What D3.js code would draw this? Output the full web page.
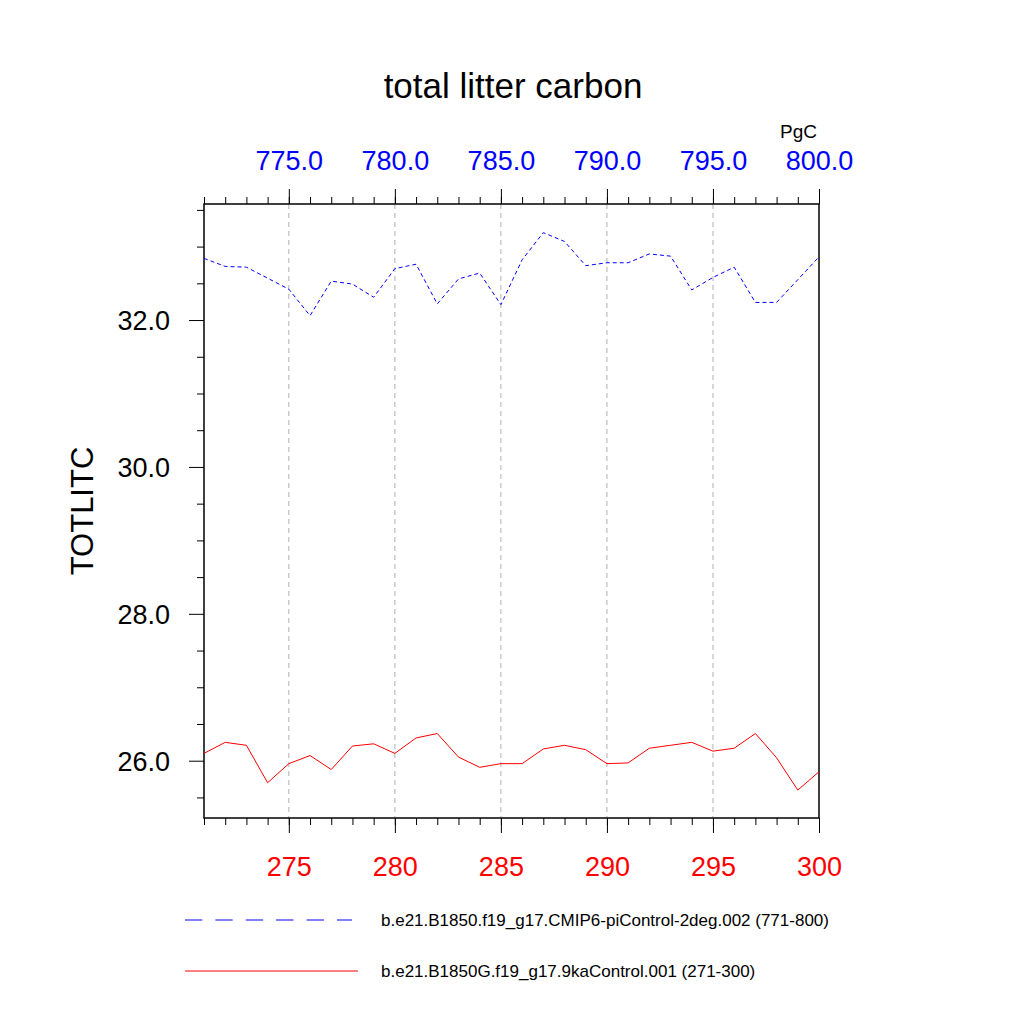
<!DOCTYPE html>
<html>
<head>
<meta charset="utf-8">
<script src="https://cdn.jsdelivr.net/npm/d3@7"></script>
<style>
  body { margin: 0; background: #fff; }
  svg text { font-family: "Liberation Sans", Arial, sans-serif; }
</style>
</head>
<body>
<svg width="1024" height="1024"></svg>
<script>
// years on the two x axes
var yearsCtl = [771, 772, 773, 774, 775, 776, 777, 778, 779, 780, 781, 782, 783, 784, 785,
                786, 787, 788, 789, 790, 791, 792, 793, 794, 795, 796, 797, 798, 799, 800];
var yearsKa  = [271, 272, 273, 274, 275, 276, 277, 278, 279, 280, 281, 282, 283, 284, 285,
                286, 287, 288, 289, 290, 291, 292, 293, 294, 295, 296, 297, 298, 299, 300];

// TOTLITC (PgC)
var ctlVals = [32.84, 32.73, 32.72, 32.57, 32.42, 32.06, 32.53, 32.49, 32.31, 32.70,
               32.76, 32.22, 32.56, 32.64, 32.21, 32.82, 33.19, 33.07, 32.74, 32.78,
               32.78, 32.90, 32.87, 32.41, 32.58, 32.72, 32.24, 32.24, 32.55, 32.86];
var kaVals  = [26.10, 26.25, 26.21, 25.70, 25.96, 26.07, 25.88, 26.20, 26.23, 26.10,
               26.31, 26.37, 26.05, 25.91, 25.96, 25.96, 26.16, 26.21, 26.15, 25.96,
               25.97, 26.17, 26.21, 26.25, 26.13, 26.17, 26.37, 26.04, 25.60, 25.85];

var topTicks = [775, 780, 785, 790, 795, 800];
var bottomTicks = [275, 280, 285, 290, 295, 300];
var leftTicks = [26, 28, 30, 32];
var leftMinor = [25.5, 26.5, 27, 27.5, 28.5, 29, 29.5, 30.5, 31, 31.5, 32.5, 33, 33.5];

var legendNames = ["b.e21.B1850.f19_g17.CMIP6-piControl-2deg.002 (771-800)",
                   "b.e21.B1850G.f19_g17.9kaControl.001 (271-300)"];

var svg = d3.select("svg"),
    margin = {top: 204, left: 204},
    width = 615,
    height = 614,
    g = svg.append("g").attr("transform", "translate(" + margin.left + "," + margin.top + ")");

var xBot = d3.scaleLinear().domain([271, 300]).range([0, width]);
var xTop = d3.scaleLinear().domain([771, 800]).range([0, width]);
var y = d3.scaleLinear().domain([25.22, 33.58]).range([height, 0]);

// grid lines at the labelled years
g.append("g").selectAll("line")
    .data(bottomTicks.filter(function(d) { return d < 300; }))
  .enter().append("line")
    .attr("x1", function(d) { return xBot(d); })
    .attr("x2", function(d) { return xBot(d); })
    .attr("y1", 0).attr("y2", height)
    .attr("stroke", "#b0b0b0")
    .attr("stroke-width", 1)
    .attr("stroke-dasharray", "5,4");

// minor ticks
g.append("g")
    .attr("transform", "translate(0," + height + ")")
    .call(d3.axisBottom(xBot).tickValues(yearsKa.concat([271])).tickSize(7).tickFormat(""));
g.append("g")
    .call(d3.axisTop(xTop).tickValues(yearsCtl.concat([771])).tickSize(7).tickFormat(""));
g.append("g")
    .call(d3.axisLeft(y).tickValues(leftMinor).tickSize(7).tickFormat(""));

// major ticks + labels
var botAxis = g.append("g")
    .attr("transform", "translate(0," + height + ")")
    .call(d3.axisBottom(xBot).tickValues(bottomTicks).tickSize(15).tickFormat(d3.format("d")));
botAxis.selectAll("text").attr("y", 58).attr("dy", null)
    .attr("fill", "#ff0000").style("font-size", "27px");

var topAxis = g.append("g")
    .call(d3.axisTop(xTop).tickValues(topTicks).tickSize(15).tickFormat(d3.format(".1f")));
topAxis.selectAll("text").attr("y", -34).attr("dy", null)
    .attr("fill", "#0000ff").style("font-size", "27px");

var leftAxis = g.append("g")
    .call(d3.axisLeft(y).tickValues(leftTicks).tickSize(15).tickFormat(d3.format(".1f")));
leftAxis.selectAll("text").attr("x", -34).attr("dy", "0.36em")
    .attr("fill", "#000").style("font-size", "27px");

g.selectAll(".domain").remove();
g.selectAll(".tick line").attr("stroke", "#000").attr("stroke-width", 1);

// frame
g.append("rect")
    .attr("width", width).attr("height", height)
    .attr("fill", "none").attr("stroke", "#000").attr("stroke-width", 1.5);

// lines
var lineTop = d3.line()
    .x(function(d, i) { return xTop(yearsCtl[i]); })
    .y(function(d) { return y(d); });
var lineBot = d3.line()
    .x(function(d, i) { return xBot(yearsKa[i]); })
    .y(function(d) { return y(d); });

g.append("path").datum(ctlVals)
    .attr("d", lineTop)
    .attr("fill", "none").attr("stroke", "#0000ff").attr("stroke-width", 1)
    .attr("stroke-dasharray", "4,3");
g.append("path").datum(kaVals)
    .attr("d", lineBot)
    .attr("fill", "none").attr("stroke", "#ff0000").attr("stroke-width", 1);

// titles
svg.append("text").attr("x", 513).attr("y", 98).attr("text-anchor", "middle")
    .style("font-size", "35px").text("total litter carbon");
svg.append("text").attr("x", 780).attr("y", 138)
    .style("font-size", "19px").text("PgC");
svg.append("text")
    .attr("transform", "translate(93,511) rotate(-90)")
    .attr("text-anchor", "middle")
    .style("font-size", "31px").text("TOTLITC");

// legend
var leg = svg.append("g");
leg.append("line").attr("x1", 185).attr("x2", 352).attr("y1", 920).attr("y2", 920)
    .attr("stroke", "#0000ff").attr("stroke-width", 1).attr("stroke-dasharray", "17.3,13.1");
leg.append("line").attr("x1", 185).attr("x2", 358).attr("y1", 971).attr("y2", 971)
    .attr("stroke", "#ff0000").attr("stroke-width", 1);
leg.selectAll("text").data(legendNames).enter().append("text")
    .attr("x", 381)
    .attr("y", function(d, i) { return 926 + i * 51; })
    .style("font-size", "17px")
    .text(function(d) { return d; });
</script>
</body>
</html>
